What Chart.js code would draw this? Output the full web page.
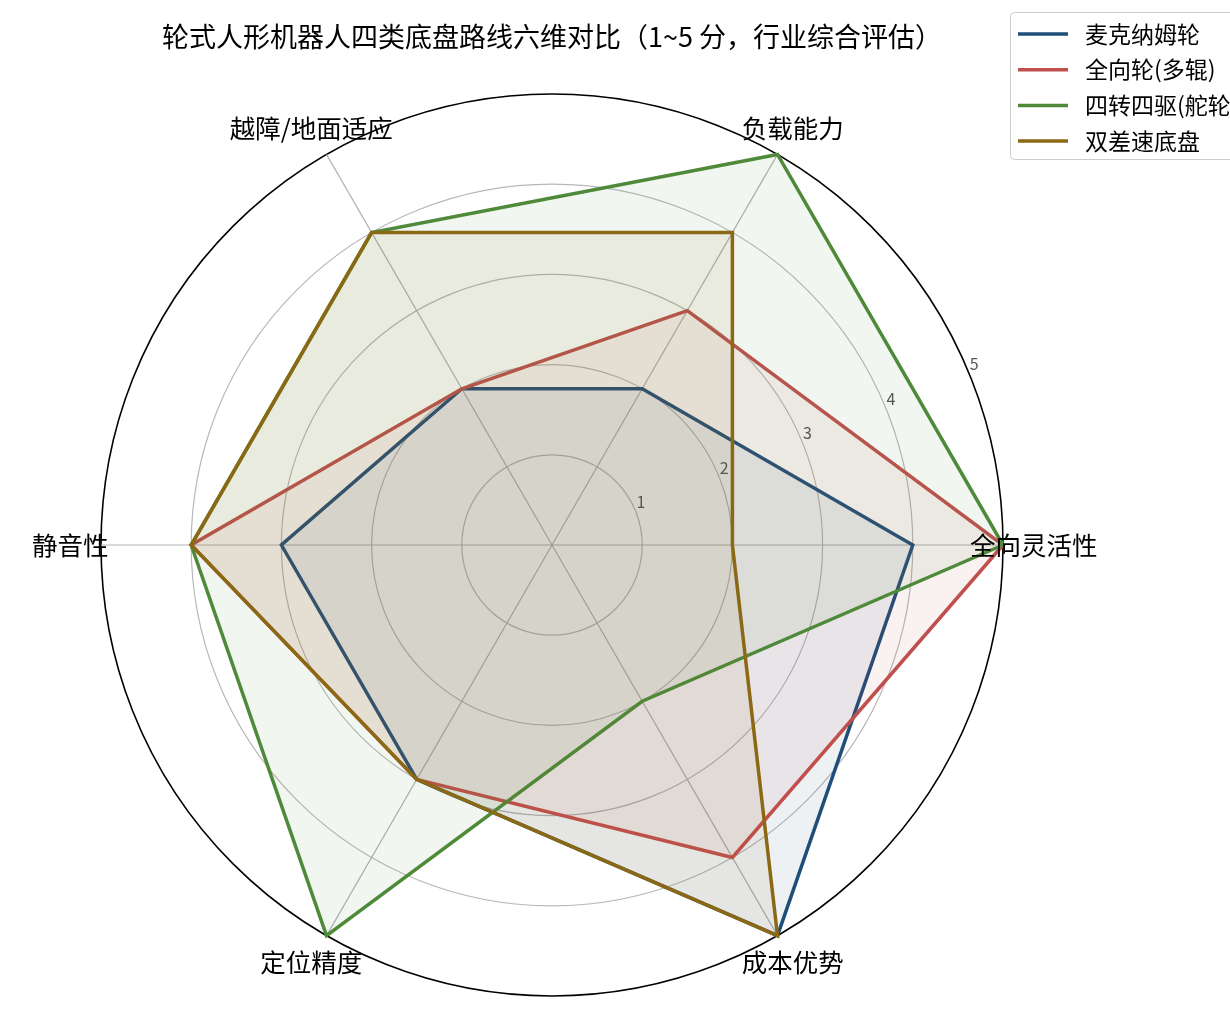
<!DOCTYPE html>
<html>
<head>
<meta charset="utf-8">
<script src="https://cdn.jsdelivr.net/npm/chart.js@4.4.1/dist/chart.umd.min.js"></script>
<style>
  html, body { margin: 0; padding: 0; background: #fff; }
  #wrap { width: 1230px; height: 1020px; position: relative; }
</style>
</head>
<body>
<div id="wrap"><canvas id="radarChart"></canvas></div>
<script>
// axes listed clockwise starting at the right (Chart.js draws clockwise)
const axisLabels = ['全向灵活性', '成本优势', '定位精度', '静音性', '越障/地面适应', '负载能力'];
const tickValues = [1, 2, 3, 4, 5];

const seriesNames = ['麦克纳姆轮', '全向轮(多辊)', '四转四驱(舵轮)', '双差速底盘'];
const mecanum   = [4, 5, 3, 3, 2, 2];
const omni      = [5, 4, 3, 4, 2, 3];
const swerve    = [5, 2, 5, 4, 4, 5];
const diffDrive = [2, 5, 3, 4, 4, 4];
const seriesValues = [mecanum, omni, swerve, diffDrive];
const seriesColors = ['#1f4e79', '#c0504d', '#4e8a3a', '#8b6914'];

const titleText = '轮式人形机器人四类底盘路线六维对比（1~5 分，行业综合评估）';
const FONT = '"Noto Sans CJK SC", "Noto Sans", sans-serif';

function hexAlpha(hex, a) {
    const n = parseInt(hex.slice(1), 16);
    return `rgba(${(n >> 16) & 255}, ${(n >> 8) & 255}, ${n & 255}, ${a})`;
}

// labels, ticks, title and legend drawn on the canvas in matplotlib style
const decorPlugin = {
    id: 'decor',
    afterDraw(chart) {
        const ctx = chart.ctx;
        const scale = chart.scales.r;
        ctx.save();

        // point labels centred on a fixed radius
        ctx.font = '25.5px ' + FONT;
        ctx.fillStyle = '#000';
        ctx.textAlign = 'center';
        ctx.textBaseline = 'middle';
        axisLabels.forEach((lab, i) => {
            const p = scale.getPointPosition(i, scale.drawingArea * 1.068);
            ctx.fillText(lab, p.x, p.y);
        });

        // radial tick labels at 22.5 degrees
        ctx.font = '16px ' + FONT;
        ctx.fillStyle = '#555';
        const ang = 22.5 * Math.PI / 180;
        tickValues.forEach(v => {
            const r = scale.getDistanceFromCenterForValue(v);
            ctx.fillText(String(v), scale.xCenter + r * Math.cos(ang) + 5.5, scale.yCenter - r * Math.sin(ang) - 8.5);
        });

        // title
        ctx.font = '27px ' + FONT;
        ctx.fillStyle = '#000';
        ctx.fillText(titleText, 552, 37);

        // legend
        ctx.fillStyle = '#fff';
        ctx.strokeStyle = '#cccccc';
        ctx.lineWidth = 1;
        ctx.beginPath();
        ctx.roundRect(1010.5, 12.5, 240, 147, 4);
        ctx.fill();
        ctx.stroke();
        ctx.font = '23px ' + FONT;
        ctx.textAlign = 'left';
        seriesNames.forEach((name, i) => {
            const y = 34 + i * 35.7;
            ctx.strokeStyle = seriesColors[i];
            ctx.lineWidth = 3.5;
            ctx.beginPath();
            ctx.moveTo(1018, y);
            ctx.lineTo(1068, y);
            ctx.stroke();
            ctx.fillStyle = '#000';
            ctx.fillText(name, 1085, y);
        });
        ctx.restore();
    }
};

const radarCtx = document.getElementById('radarChart').getContext('2d');
const radarChart = new Chart(radarCtx, {
    type: 'radar',
    data: {
        labels: axisLabels,
        datasets: seriesNames.map((name, i) => ({
            label: name,
            data: seriesValues[i],
            borderColor: seriesColors[i],
            backgroundColor: hexAlpha(seriesColors[i], 0.08),
            borderWidth: 3.5,
            fill: true,
            pointRadius: 0,
            pointHoverRadius: 0,
            order: seriesNames.length - i
        }))
    },
    options: {
        responsive: true,
        maintainAspectRatio: false,
        animation: false,
        layout: {
            padding: { left: 101, top: 94, right: 227, bottom: 24 }
        },
        scales: {
            r: {
                min: 0,
                max: 5,
                startAngle: 90,
                ticks: { display: false, stepSize: 1 },
                pointLabels: { display: false },
                grid: {
                    circular: true,
                    color: c => c.tick && c.tick.value === 5 ? '#000' : '#b8b8b8',
                    lineWidth: c => c.tick && c.tick.value === 5 ? 1.6 : 1.2
                },
                angleLines: { color: '#b3b3b3', lineWidth: 1.2 }
            }
        },
        plugins: {
            legend: { display: false },
            title: { display: false },
            tooltip: { enabled: false }
        }
    },
    plugins: [decorPlugin]
});
</script>
</body>
</html>
